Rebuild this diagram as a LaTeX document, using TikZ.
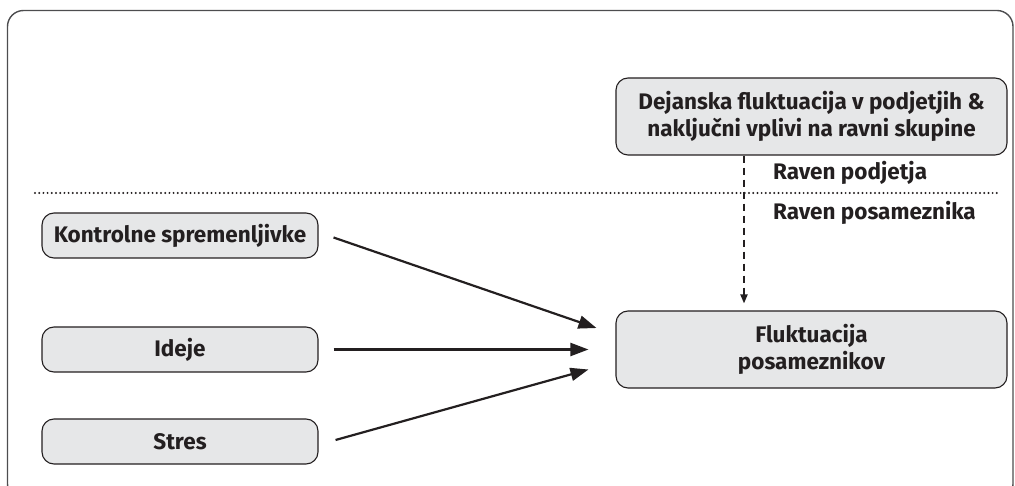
\documentclass[tikz,border=0pt]{standalone}
\usepackage{fontspec}
\setmainfont{Fira Sans}
\usetikzlibrary{arrows.meta,calc}
\definecolor{boxfill}{HTML}{E6E7E8}
\definecolor{ink}{HTML}{231F20}
\definecolor{framec}{HTML}{4D4D4F}
\tikzset{
  rbox/.style={draw=ink, fill=boxfill, rounded corners=12pt, line width=1.1pt,
    minimum width=276pt, minimum height=45pt, align=center, inner sep=0pt,
    font=\fontsize{22.5}{27}\selectfont\bfseries, text=ink},
  bigbox/.style={rbox, minimum width=391pt, minimum height=77pt},
  conn/.style={draw=ink, line width=2.2pt, -{Triangle[length=18pt,width=13pt]}},
  dconn/.style={draw=ink, line width=1.8pt, dash pattern=on 7pt off 5pt,
    -{Triangle[length=9pt,width=7pt]}},
  lvl/.style={font=\fontsize{22.5}{24}\selectfont\bfseries, text=ink, anchor=west, inner sep=0pt},
}
\begin{document}
\begin{tikzpicture}[x=1pt,y=-1pt]
\useasboundingbox (0,0) rectangle (1015,486);
\begin{scope}
\clip (0,0) rectangle (1015,486);
\draw[framec, line width=1.4pt, rounded corners=16pt] (7.5,10.5) rectangle (1013,500);
\end{scope}
\node[rbox] (k) at (180,235.5) {Kontrolne spremenljivke};
\node[rbox] (i) at (180,349.5) {Ideje};
\node[rbox] (s) at (180,441.5) {Stres};
\node[bigbox] (f) at (811.5,349.5) {Fluktuacija\\posameznikov};
\node[bigbox] (d) at (811.5,116.5) {Dejanska fluktuacija v podjetjih \&\\naključni vplivi na ravni skupine};
\coordinate (l1) at (35,193);
\coordinate (l2) at (1000,193);
\draw[ink, line width=2.2pt, line cap=round, dash pattern=on 0pt off 4.2pt] (l1) -- (l2);
\coordinate (dx) at (744,0);
\node[lvl] (rp) at (773,173) {Raven podjetja};
\node[lvl] (rq) at (773,213) {Raven posameznika};
\draw[dconn, shorten >=7pt] (d.south -| dx) -- (f.north -| dx);
\draw[conn] ([xshift=15pt,yshift=-2pt]k.east) -- ([xshift=-19pt,yshift=21.5pt]f.west);
\draw[conn] ([xshift=15pt]i.east) -- ([xshift=-27pt]f.west);
\draw[conn] ([xshift=17pt,yshift=1.5pt]s.east) -- ([xshift=-27pt,yshift=-20pt]f.west);
\end{tikzpicture}
\end{document}
